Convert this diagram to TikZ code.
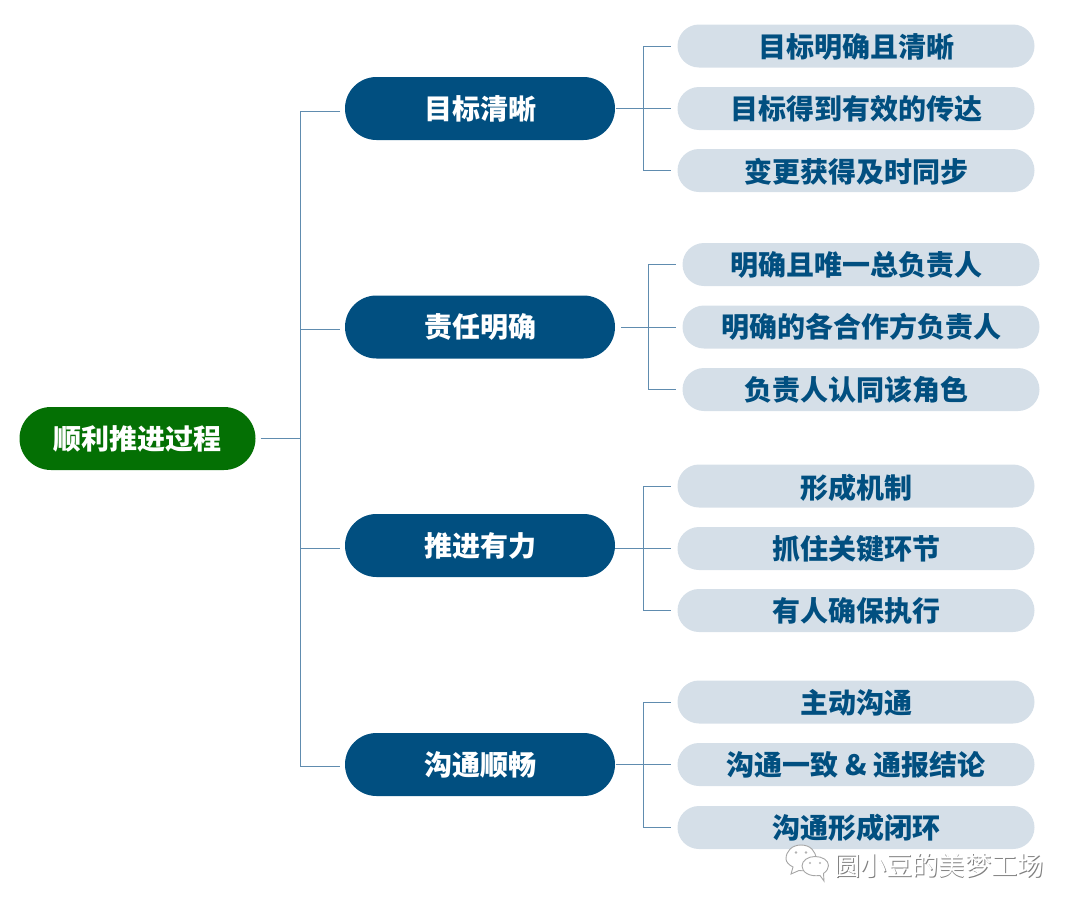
\documentclass[tikz,border=0pt]{standalone}
\usepackage{fontspec}
\setmainfont{Noto Sans CJK SC}
\usetikzlibrary{shapes.misc}

\definecolor{deepblue}{RGB}{1,79,128}
\definecolor{deepgreen}{RGB}{4,112,4}
\definecolor{paleblue}{RGB}{213,223,232}
\definecolor{wireblue}{RGB}{96,140,175}

\tikzset{
	pill/.style={rounded rectangle,inner sep=0pt,font=\fontsize{28}{28}\selectfont\bfseries},
	rootpill/.style={pill,fill=deepgreen,text=white,minimum width=236,minimum height=63},
	mainpill/.style={pill,fill=deepblue,text=white,minimum width=270,minimum height=63},
	subpill/.style={pill,fill=paleblue,text=deepblue,minimum width=357,minimum height=43},
	lowtext/.style={text depth=3.4pt,text height=#1},
	wire/.style={draw=wireblue,line width=1},
	bubble/.style={draw=black!35,fill=white,line width=0.9},
	eye/.style={fill=black!30},
	mark text/.style={font=\fontsize{26.2}{26.2}\selectfont}
}

\begin{document}
\begin{tikzpicture}[x=1pt,y=-1pt]
	\useasboundingbox (0,0) rectangle (1080,913);

	% Root
	\node [rootpill] (root) at (137.5,438.5) {顺利推进过程};

	% Main branches
	\node [mainpill] (goal) at (480,108.5) {目标清晰};
	\node [mainpill] (duty) at (480,327) {责任明确};
	\node [mainpill] (push) at (480,545.5) {推进有力};
	\node [mainpill] (talk) at (480,764.5) {沟通顺畅};

	% Leaves of goal
	\node [subpill,lowtext=26.6pt] (goalA) at (856,46) {目标明确且清晰};
	\node [subpill] (goalB) at (856,108.5) {目标得到有效的传达};
	\node [subpill,lowtext=26.6pt] (goalC) at (856,170.5) {变更获得及时同步};
	% Leaves of duty, the text sits a little off centre
	\node [subpill] (dutyA) at (861,264.5) {\hspace{-10pt}明确且唯一总负责人};
	\node [subpill] (dutyB) at (861,327) {明确的各合作方负责人};
	\node [subpill] (dutyC) at (861,389.5) {\hspace{-10pt}负责人认同该角色};
	% Leaves of push
	\node [subpill,lowtext=28.6pt] (pushA) at (856,486) {形成机制};
	\node [subpill] (pushB) at (856,548.5) {抓住关键环节};
	\node [subpill] (pushC) at (856,610.5) {有人确保执行};
	% Leaves of talk
	\node [subpill,lowtext=26.6pt] (talkA) at (856,702) {主动沟通};
	\node [subpill] (talkB) at (856,764.5) {沟通一致 \& 通报结论};
	\node [subpill] (talkC) at (856,827.5) {沟通形成闭环};

	% Trunk from the root
	\coordinate (trunkTop) at (300,111);
	\coordinate (trunkEnd) at (300,766);
	\coordinate (trunkMid) at (300,438.5);
	\coordinate (stubA) at (340,111);
	\coordinate (stubB) at (340,329);
	\coordinate (stubC) at (340,548);
	\coordinate (stubD) at (340,766);
	\draw [wire,shorten <=5] (root.east) -- (trunkMid);
	\draw [wire] (stubA) -- (trunkTop) -- (trunkEnd) -- (stubD);
	\draw [wire] (trunkMid |- stubB) -- (stubB);
	\draw [wire] (trunkMid |- stubC) -- (stubC);

	% Brackets towards the leaves
	\coordinate (spineA) at (643,108.5);
	\draw [wire,shorten <=1,shorten >=6] (goal.east) -- (goalB.west);
	\draw [wire] (spineA |- goalA) -- (spineA |- goalC);
	\draw [wire,shorten >=6] (spineA |- goalA) -- (goalA.west);
	\draw [wire,shorten >=6] (spineA |- goalC) -- (goalC.west);

	\coordinate (spineB) at (648,327);
	\draw [wire,shorten <=6,shorten >=6] (duty.east) -- (dutyB.west);
	\draw [wire] (spineB |- dutyA) -- (spineB |- dutyC);
	\draw [wire,shorten >=6] (spineB |- dutyA) -- (dutyA.west);
	\draw [wire,shorten >=6] (spineB |- dutyC) -- (dutyC.west);

	\coordinate (spineC) at (643,548.5);
	\coordinate (pushOut) at (615,548.5);
	\draw [wire,shorten >=6] (pushOut) -- (pushB.west);
	\draw [wire] (spineC |- pushA) -- (spineC |- pushC);
	\draw [wire,shorten >=6] (spineC |- pushA) -- (pushA.west);
	\draw [wire,shorten >=6] (spineC |- pushC) -- (pushC.west);

	\coordinate (spineD) at (643,764.5);
	\draw [wire,shorten <=1,shorten >=6] (talk.east) -- (talkB.west);
	\draw [wire] (spineD |- talkA) -- (spineD |- talkC);
	\draw [wire,shorten >=6] (spineD |- talkA) -- (talkA.west);
	\draw [wire,shorten >=6] (spineD |- talkC) -- (talkC.west);

	% Chat bubbles
	\draw [bubble] (793,867) -- (791,874) -- (799,870.5) .. controls (808,872) and (816,867) .. (816,859) .. controls (816,851) and (810,845) .. (801,845) .. controls (792,845) and (786,851) .. (786,859) .. controls (786,862) and (789,865) .. (793,867) -- cycle;
	\fill [eye] (796,852.5) circle (1.4) (806,852.5) circle (1.4);
	\draw [bubble] (820,875.5) -- (824,881) -- (823.5,873.5) .. controls (827,871) and (828.5,868) .. (828.5,865.5) .. controls (828.5,860) and (822,856.5) .. (815,856.5) .. controls (808,856.5) and (802,860.5) .. (802,866) .. controls (802,872) and (809,877) .. (820,875.5) -- cycle;
	\fill [eye] (810,863) circle (1.2) (820,863) circle (1.2);

	% Caption beside the bubbles, with a soft offset shade
	\node [mark text,text=black!50,anchor=west,inner sep=0pt] at (834.9,866.4) {圆小豆的美梦工场};
	\node [mark text,text=white,anchor=west,inner sep=0pt] (caption) at (834,865.5) {圆小豆的美梦工场};

\end{tikzpicture}
\end{document}
